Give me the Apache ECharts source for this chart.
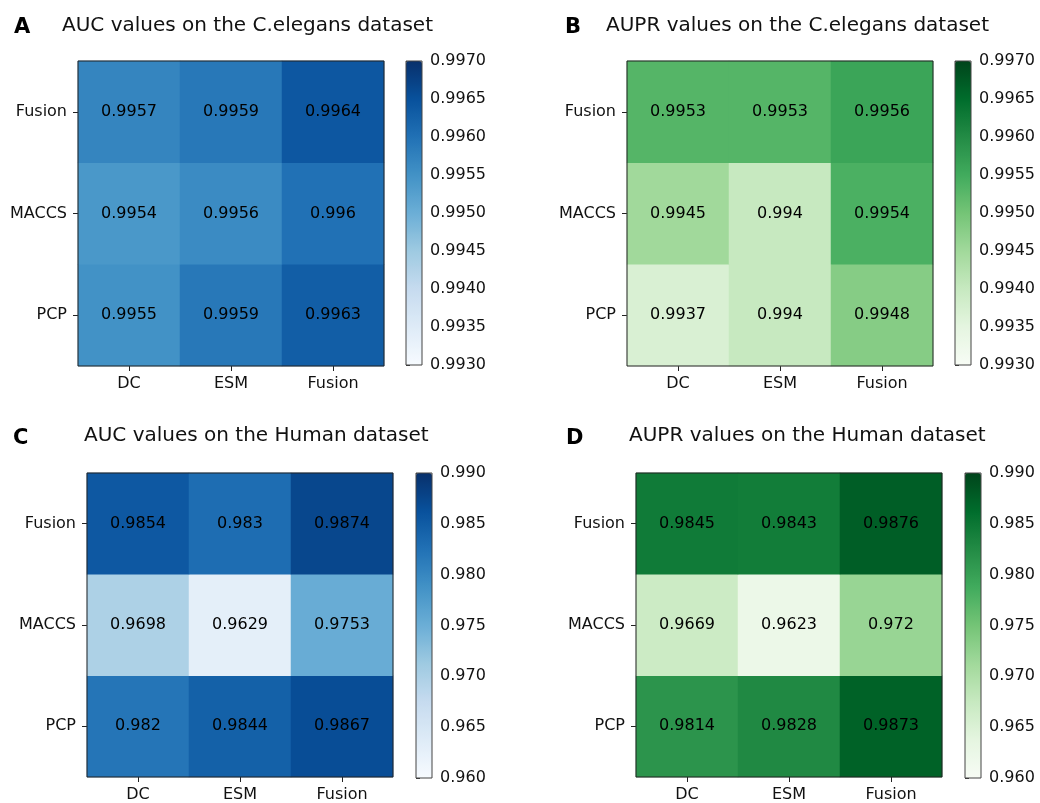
<!DOCTYPE html>
<html>
<head>
<meta charset="utf-8">
<script src="https://cdn.jsdelivr.net/npm/echarts@6/dist/echarts.min.js"></script>
<style>
html,body{margin:0;padding:0;background:#fff;}
#chart{width:1040px;height:803px;}
</style>
</head>
<body>
<div id="chart"></div>
<script>
// ---- data ----
const xCategories = ['DC', 'ESM', 'Fusion'];
const yCategories = ['PCP', 'MACCS', 'Fusion']; // bottom to top
// rows follow yCategories order, columns follow xCategories order
const aucCelegans = [
  [0.9955, 0.9959, 0.9963],
  [0.9954, 0.9956, 0.9960],
  [0.9957, 0.9959, 0.9964]
];
const auprCelegans = [
  [0.9937, 0.9940, 0.9948],
  [0.9945, 0.9940, 0.9954],
  [0.9953, 0.9953, 0.9956]
];
const aucHuman = [
  [0.9820, 0.9844, 0.9867],
  [0.9698, 0.9629, 0.9753],
  [0.9854, 0.9830, 0.9874]
];
const auprHuman = [
  [0.9814, 0.9828, 0.9873],
  [0.9669, 0.9623, 0.9720],
  [0.9845, 0.9843, 0.9876]
];
const celeganTicks = { min: 0.993, max: 0.997, step: 0.0005, digits: 4 };
const humanTicks = { min: 0.960, max: 0.990, step: 0.005, digits: 3 };
const panelLetters = ['A', 'B', 'C', 'D'];
const panelTitles = [
  'AUC values on the C.elegans dataset',
  'AUPR values on the C.elegans dataset',
  'AUC values on the Human dataset',
  'AUPR values on the Human dataset'
];

const BLUES = ['#f7fbff','#deebf7','#c6dbef','#9ecae1','#6baed6','#4292c6','#2171b5','#08519c','#08306b'];
const GREENS = ['#f7fcf5','#e5f5e0','#c7e9c0','#a1d99b','#74c476','#41ab5d','#238b45','#006d2c','#00441b'];

const FONT = 'DejaVu Sans';
const panels = [
  { data: aucCelegans, ticks: celeganTicks, cmap: BLUES,
    grid: {left: 78, top: 61, width: 306, height: 305},
    bar: {left: 406, top: 61, width: 16, height: 304},
    letter: {left: 14, top: 17}, title: {left: 62, top: 16} },
  { data: auprCelegans, ticks: celeganTicks, cmap: GREENS,
    grid: {left: 627, top: 61, width: 306, height: 305},
    bar: {left: 955, top: 61, width: 16, height: 304},
    letter: {left: 565, top: 17}, title: {left: 606, top: 16} },
  { data: aucHuman, ticks: humanTicks, cmap: BLUES,
    grid: {left: 87, top: 473, width: 306, height: 305},
    bar: {left: 416, top: 473, width: 16, height: 305},
    letter: {left: 13, top: 428}, title: {left: 84, top: 426} },
  { data: auprHuman, ticks: humanTicks, cmap: GREENS,
    grid: {left: 636, top: 473, width: 306, height: 305},
    bar: {left: 965, top: 473, width: 16, height: 305},
    letter: {left: 566, top: 428}, title: {left: 629, top: 426} }
];

const option = {
  backgroundColor: '#ffffff',
  animation: false,
  textStyle: { fontFamily: FONT },
  title: [], grid: [], xAxis: [], yAxis: [], visualMap: [], series: []
};

panels.forEach((p, i) => {
  option.title.push({
    text: panelLetters[i], left: p.letter.left, top: p.letter.top, padding: 0,
    textStyle: { fontFamily: FONT, fontSize: 21, fontWeight: 'bold', color: '#000' }
  });
  option.title.push({
    text: panelTitles[i], left: p.title.left, top: p.title.top, padding: 0,
    textStyle: { fontFamily: FONT, fontSize: 20, fontWeight: 'normal', color: '#111' }
  });
  // heatmap grid
  const gi = option.grid.length;
  option.grid.push(Object.assign({ show: true, borderColor: '#222', borderWidth: 1,
    backgroundColor: 'transparent', z: 10, containLabel: false }, p.grid));
  option.xAxis.push({
    type: 'category', gridIndex: gi, data: xCategories,
    axisLine: { show: false },
    axisTick: { show: true, alignWithLabel: true, length: 5, lineStyle: { color: '#222' } },
    axisLabel: { fontSize: 16, color: '#111', margin: 10, fontFamily: FONT },
    splitLine: { show: false }
  });
  option.yAxis.push({
    type: 'category', gridIndex: gi, data: yCategories,
    axisLine: { show: false },
    axisTick: { show: true, alignWithLabel: true, length: 5, lineStyle: { color: '#222' } },
    axisLabel: { fontSize: 16, color: '#111', margin: 11, fontFamily: FONT },
    splitLine: { show: false }
  });
  const cells = [];
  p.data.forEach((row, r) => row.forEach((v, c) => cells.push([c, r, v])));
  const si = option.series.length;
  option.series.push({
    type: 'heatmap', xAxisIndex: gi, yAxisIndex: gi, data: cells, z: 2,
    label: { show: true, fontSize: 16, color: '#000', fontFamily: FONT,
      formatter: d => String(d.value[2]) },
    itemStyle: { borderWidth: 0 },
    emphasis: { disabled: true }
  });
  // colorbar
  option.visualMap.push({
    type: 'continuous', seriesIndex: si, min: p.ticks.min, max: p.ticks.max,
    left: p.bar.left, top: p.bar.top, itemWidth: p.bar.width, itemHeight: p.bar.height,
    padding: 0, calculable: false, hoverLink: false, orient: 'vertical',
    inRange: { color: p.cmap }, text: null, textStyle: { fontSize: 0 }
  });
  const ci = option.grid.length;
  option.grid.push(Object.assign({ show: true, borderColor: '#444', borderWidth: 1,
    backgroundColor: 'transparent', z: 10 }, p.bar));
  option.xAxis.push({ type: 'value', gridIndex: ci, show: false, min: 0, max: 1 });
  option.yAxis.push({
    type: 'value', gridIndex: ci, position: 'right',
    min: p.ticks.min, max: p.ticks.max, interval: p.ticks.step,
    axisLine: { show: false },
    axisTick: { show: true, length: 4, lineStyle: { color: '#333' } },
    axisLabel: { fontSize: 16, color: '#111', margin: 8, fontFamily: FONT,
      formatter: v => Number(v).toFixed(p.ticks.digits) },
    splitLine: { show: false }
  });
});

const chart = echarts.init(document.getElementById('chart'), null, { renderer: 'canvas' });
chart.setOption(option);
</script>
</body>
</html>
